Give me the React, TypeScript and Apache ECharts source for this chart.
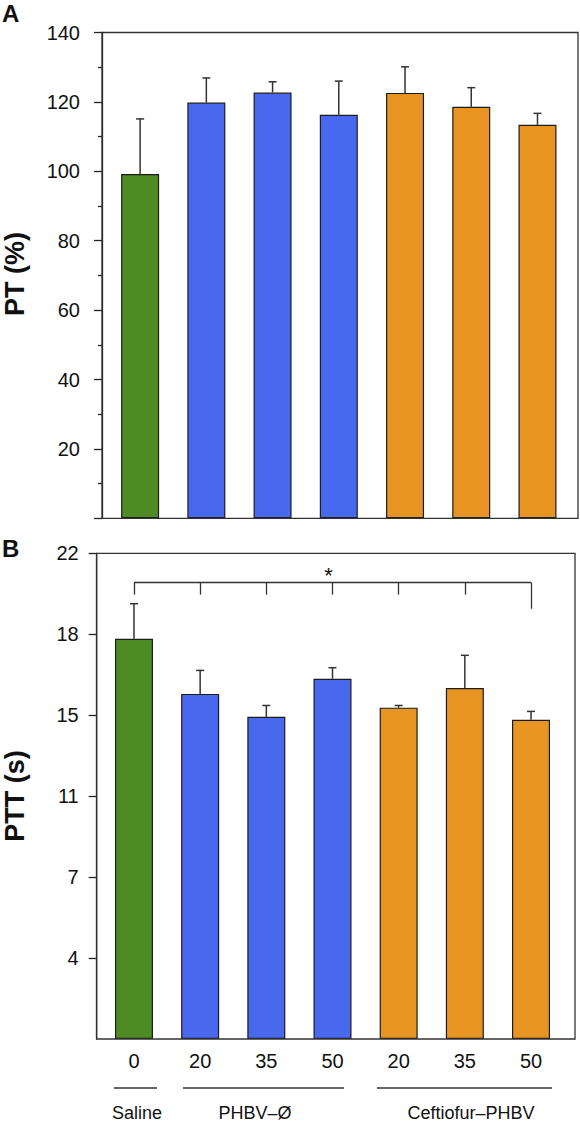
import React, { useEffect, useRef } from "react";
import * as echarts from "echarts";

// ---------- data ----------
const categories = ["Saline 0", "PHBV 20", "PHBV 35", "PHBV 50", "Ceftiofur 20", "Ceftiofur 35", "Ceftiofur 50"];
const doseLabels = ["0", "20", "35", "50", "20", "35", "50"];
const barColors = ["#4E8B22", "#4869EE", "#4869EE", "#4869EE", "#E89423", "#E89423", "#E89423"];

// Panel A: PT (%)
const ptMean = [99.2, 119.8, 122.7, 116.3, 122.6, 118.6, 113.4];
const ptSD = [15.9, 7.1, 3.1, 9.7, 7.5, 5.5, 3.3];

// Panel B: PTT (s)
const pttMean = [17.83, 15.79, 14.92, 16.35, 15.28, 16.01, 14.77];
const pttSD = [1.68, 0.87, 0.44, 0.41, 0.08, 1.21, 0.37];
const pttTickLabels = [4, 7, 11, 15, 18, 22];

// significance bracket (seconds)
const bracketLevel = 20.56;
const bracketDrop = 19.96;
const bracketDropEnd = 19.26;

// ---------- helpers ----------
const FONT = "'Liberation Sans', Arial, Helvetica, sans-serif";
const knots = [0, ...pttTickLabels];
// map seconds onto the evenly spaced (non-linear) tick positions of panel B
function toAxis(v: number): number {
  for (let i = 0; i < knots.length - 1; i++) {
    if (v <= knots[i + 1]) {
      return i + (v - knots[i]) / (knots[i + 1] - knots[i]);
    }
  }
  const n = knots.length - 1;
  return n + (v - knots[n]) / (knots[n] - knots[n - 1]);
}

function errorRender(params: any, api: any) {
  const x = api.value(0);
  const lo = api.coord([x, api.value(1)]);
  const hi = api.coord([x, api.value(2)]);
  const style = { stroke: "#333", lineWidth: 1.5 };
  return {
    type: "group",
    children: [
      { type: "line", shape: { x1: lo[0], y1: lo[1], x2: hi[0], y2: hi[1] }, style },
      { type: "line", shape: { x1: hi[0] - 4, y1: hi[1], x2: hi[0] + 4, y2: hi[1] }, style },
    ],
  };
}

function txt(text: string, x: number, y: number, font: string, align = "center", rotation = 0) {
  return {
    type: "text",
    x,
    y,
    rotation,
    silent: true,
    style: {
      text,
      font,
      fill: "#111",
      textAlign: align,
      textVerticalAlign: "middle",
      align,
      verticalAlign: "middle",
    },
  };
}

export default function App() {
  const ref = useRef<HTMLDivElement>(null);
  useEffect(() => {
    document.body.style.margin = "0";
    const chart = echarts.init(ref.current!, null, { renderer: "svg" });

    const gA = { left: 107, top: 32.5, width: 463.6, height: 485.8 };
    const gB = { left: 100.9, top: 553.3, width: 463.2, height: 485.7 };

    const bracketH = toAxis(bracketLevel);
    const markLines: any[] = [
      [{ coord: [0, bracketH] }, { coord: [categories.length - 1, bracketH] }],
    ];
    categories.forEach((_, i) => {
      const bottom = i === categories.length - 1 ? bracketDropEnd : bracketDrop;
      markLines.push([{ coord: [i, bracketH] }, { coord: [i, toAxis(bottom)] }]);
    });

    const axisLineStyle = { color: "#222", width: 1.3 };
    const lineStyle = { stroke: "#333", lineWidth: 1.3 };

    const option: any = {
      animation: false,
      textStyle: { fontFamily: FONT },
      grid: [
        { ...gA, containLabel: false },
        { ...gB, containLabel: false },
      ],
      xAxis: [
        {
          type: "category",
          gridIndex: 0,
          data: categories,
          axisLine: { show: false },
          axisTick: { show: false },
          axisLabel: { show: false },
        },
        {
          type: "category",
          gridIndex: 1,
          data: categories,
          axisLine: { show: false },
          axisTick: { show: false },
          axisLabel: {
            show: true,
            fontSize: 20,
            color: "#111",
            margin: 12,
            fontFamily: FONT,
            formatter: (_v: string, i: number) => doseLabels[i],
          },
        },
      ],
      yAxis: [
        {
          type: "value",
          gridIndex: 0,
          min: 0,
          max: 140,
          interval: 20,
          offset: 5,
          axisLine: { show: true, lineStyle: axisLineStyle },
          axisTick: { show: true, length: 8, lineStyle: axisLineStyle },
          minorTick: { show: true, splitNumber: 2, length: 4, lineStyle: axisLineStyle },
          splitLine: { show: false },
          axisLabel: {
            fontSize: 20,
            color: "#111",
            margin: 22,
            fontFamily: FONT,
            formatter: (v: number) => (v === 0 ? "" : String(v)),
          },
        },
        {
          type: "value",
          gridIndex: 1,
          min: 0,
          max: pttTickLabels.length,
          interval: 1,
          offset: 4.2,
          axisLine: { show: true, lineStyle: axisLineStyle },
          axisTick: {
            show: true,
            length: 8,
            lineStyle: axisLineStyle,
            customValues: pttTickLabels.map((_, i) => i + 1),
          },
          splitLine: { show: false },
          axisLabel: {
            fontSize: 20,
            color: "#111",
            margin: 18,
            fontFamily: FONT,
            customValues: pttTickLabels.map((_, i) => i + 1),
            formatter: (v: number) => (v >= 1 ? String(pttTickLabels[Math.round(v) - 1]) : ""),
          },
        },
      ],
      series: [
        {
          type: "bar",
          xAxisIndex: 0,
          yAxisIndex: 0,
          barWidth: 38,
          data: ptMean.map((v, i) => ({
            value: v,
            itemStyle: { color: barColors[i], borderColor: "#1c1c1c", borderWidth: 1.2 },
          })),
          z: 2,
        },
        {
          type: "custom",
          xAxisIndex: 0,
          yAxisIndex: 0,
          renderItem: errorRender,
          encode: { x: 0, y: [1, 2] },
          data: ptMean.map((v, i) => [i, v, v + ptSD[i]]),
          z: 3,
        },
        {
          type: "bar",
          xAxisIndex: 1,
          yAxisIndex: 1,
          barWidth: 38,
          data: pttMean.map((v, i) => ({
            value: toAxis(v),
            itemStyle: { color: barColors[i], borderColor: "#1c1c1c", borderWidth: 1.2 },
          })),
          z: 2,
          markLine: {
            silent: true,
            symbol: "none",
            label: { show: false },
            lineStyle: { color: "#333", width: 1.3, type: "solid" },
            data: markLines,
          },
          markPoint: {
            silent: true,
            symbol: "circle",
            symbolSize: 0,
            data: [
              {
                coord: [3, bracketH],
                label: {
                  show: true,
                  formatter: "*",
                  position: "inside",
                  offset: [-4, -7],
                  fontSize: 22,
                  color: "#111",
                  fontFamily: FONT,
                },
              },
            ],
          },
        },
        {
          type: "custom",
          xAxisIndex: 1,
          yAxisIndex: 1,
          renderItem: errorRender,
          encode: { x: 0, y: [1, 2] },
          data: pttMean.map((v, i) => [i, toAxis(v), toAxis(v + pttSD[i])]),
          z: 3,
        },
      ],
      graphic: [
        // frames
        {
          type: "rect",
          z: 10,
          shape: { x: 102, y: gA.top, width: 476, height: gA.height },
          style: { fill: "none", stroke: "#333", lineWidth: 1.3 },
          silent: true,
        },
        {
          type: "rect",
          z: 10,
          shape: { x: 96.7, y: gB.top, width: 478.3, height: gB.height },
          style: { fill: "none", stroke: "#333", lineWidth: 1.3 },
          silent: true,
        },
        // panel letters
        txt("A", 2, 13, `bold 24px ${FONT}`, "left"),
        txt("B", 2, 548, `bold 24px ${FONT}`, "left"),
        // axis titles
        txt("PT (%)", 14.5, 274, `bold 27px ${FONT}`, "center", Math.PI / 2),
        txt("PTT (s)", 14.5, 796, `bold 27px ${FONT}`, "center", Math.PI / 2),
        // group underlines
        { type: "line", silent: true, shape: { x1: 114, y1: 1088, x2: 157, y2: 1088 }, style: lineStyle },
        { type: "line", silent: true, shape: { x1: 183, y1: 1088, x2: 344, y2: 1088 }, style: lineStyle },
        { type: "line", silent: true, shape: { x1: 377, y1: 1088, x2: 552, y2: 1088 }, style: lineStyle },
        // group names
        txt("Saline", 137, 1112.5, `18px ${FONT}`),
        txt("PHBV–Ø", 255, 1112.5, `18px ${FONT}`),
        txt("Ceftiofur–PHBV", 471, 1112.5, `18px ${FONT}`),
      ],
    };

    chart.setOption(option);
    return () => chart.dispose();
  }, []);

  return <div ref={ref} style={{ width: 580, height: 1123 }} />;
}
